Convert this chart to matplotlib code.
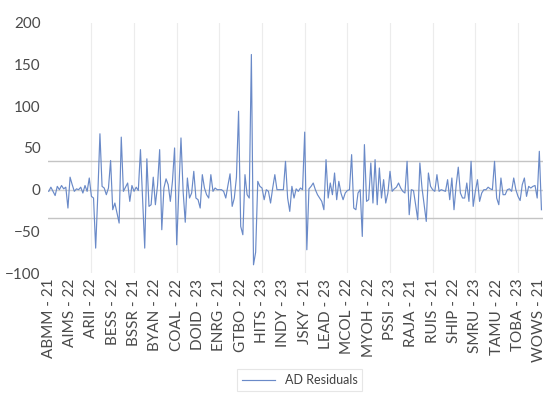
import matplotlib.pyplot as plt
import numpy as np

plt.rcParams['font.family'] = ['Lato', 'DejaVu Sans']

# AD residuals, one value per firm-year
residuals = [
    -2, 3, -2, -7, 4, 0, 5, 1, 3, -22,
    15, 6, -2, 1, 0, 3, -4, 5, -2, 14,
    -8, -10, -70, -6, 67, 4, 2, -6, 2, 35,
    -24, -16, -28, -40, 63, -2, 3, 8, -14, 5,
    -2, 3, -1, 48, -10, -70, 37, -20, -18, 15,
    -18, 5, 48, -48, 2, 13, 6, -14, 10, 50,
    -66, 0, 62, -2, -39, 14, -10, -4, 22, -10,
    -12, -22, 18, 2, -6, -10, 18, -2, 2, 0,
    0, 0, -2, -10, 5, 19, -20, -10, 15, 94,
    -44, -54, 18, -6, -10, 162, -90, -75, 10, 4,
    2, -12, 0, -2, -16, 2, 18, 0, 0, 0,
    0, 34, -10, -26, 4, -10, 1, -2, 2, 0,
    69, -72, 1, 4, 8, 0, -6, -10, -14, -24,
    36, -10, 8, -6, 20, -12, 10, -4, -12, -4,
    -1, 0, 42, -22, -24, -4, 0, -56, 54, -14,
    -12, 32, -16, 36, -18, 26, -10, 12, -16, -4,
    22, -2, 1, 3, 8, 2, -2, -4, 34, -30,
    0, -1, -18, -36, 32, 2, -18, -38, 20, 4,
    0, -2, 18, -2, 0, -1, -2, 12, -12, 14,
    -24, 5, 27, -4, -10, -10, 8, -14, 34, -20,
    -2, 12, -14, -4, 0, 0, 3, 1, 0, 34,
    -10, -18, 14, -6, -6, 0, 1, -2, 14, 0,
    -8, -13, 6, 14, -8, 4, 2, 4, 5, -10,
    46, -24,
]

tick_labels = [
    "ABMM - 21", "AIMS - 22", "ARII - 22", "BESS - 22", "BSSR - 21", "BYAN - 22",
    "COAL - 22", "DOID - 23", "ENRG - 21", "GTBO - 22", "HITS - 23", "INDY - 23",
    "JSKY - 21", "LEAD - 23", "MCOL - 22", "MYOH - 22", "PSSI - 23", "RAJA - 21",
    "RUIS - 21", "SHIP - 22", "SMRU - 23", "TAMU - 22", "TOBA - 23", "WOWS - 21",
]

upper_band = 34
lower_band = -33.5

x = np.arange(len(residuals))
tick_pos = np.arange(len(tick_labels)) * 10

fig = plt.figure(figsize=(5.48, 3.93), dpi=100)
ax = fig.add_axes([0.087, 0.305, 0.903, 0.637])

for p in tick_pos[2::2]:
    ax.axvline(p, color="#ececec", lw=0.8, zorder=0)

ax.axhline(0, color="#d0d0d0", lw=1, zorder=1)
ax.axhline(upper_band, color="#c4c4c4", lw=1, zorder=1)
ax.axhline(lower_band, color="#c4c4c4", lw=1, zorder=1)

ax.plot(
    x, residuals,
    color="#6a8ac8",
    lw=0.85,
    label="AD Residuals",
    zorder=2
)

ax.set_xlim(-0.5, len(residuals) - 0.5)
ax.set_ylim(-100, 200)
ax.set_yticks(np.arange(-100, 201, 50))
ax.set_xticks(tick_pos)
ax.set_xticklabels(tick_labels, rotation=90)

ax.tick_params(axis="both", length=0, colors="#4a4a4a", labelsize=11)
ax.tick_params(axis="y", pad=5)
ax.tick_params(axis="x", pad=4)
for s in ax.spines.values():
    s.set_visible(False)

leg = fig.legend(
    loc="lower center",
    bbox_to_anchor=(0.547, -0.012),
    fontsize=9,
    frameon=True,
    fancybox=False,
    edgecolor="#e0e0e0",
    handlelength=2.6,
    labelcolor="#404040"
)
leg.get_frame().set_linewidth(0.8)

fig.savefig("out.png", dpi=100)
